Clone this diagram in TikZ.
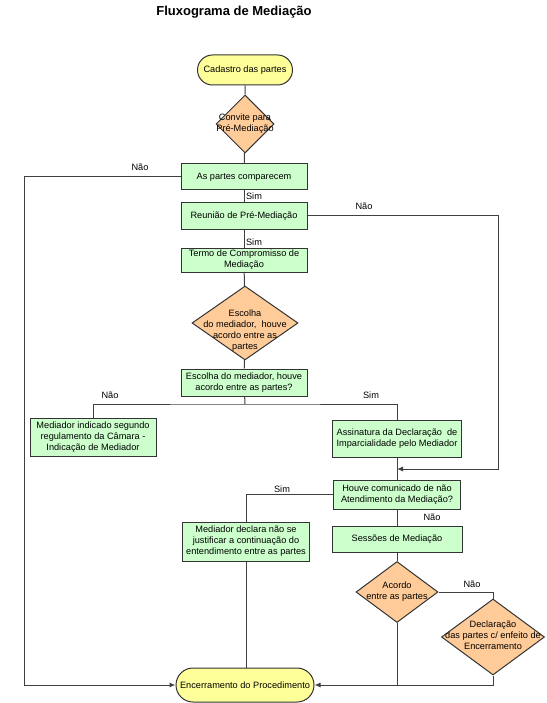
\documentclass[tikz,border=0pt]{standalone}
\usepackage{fontspec}
\setmainfont{Liberation Sans}
\usetikzlibrary{shapes.geometric,shapes.misc,arrows.meta}
\definecolor{fimcor}{HTML}{FFFF99}
\definecolor{caixacor}{HTML}{CCFFCC}
\definecolor{decisaocor}{HTML}{FFCC99}
\definecolor{linhacor}{HTML}{404040}

\begin{document}
\begin{tikzpicture}[x=1pt, y=-1pt,
	every node/.style={font=\fontsize{9.2}{11}\selectfont},
	terminal/.style={rounded rectangle, draw=black!80, fill=fimcor, line width=1pt, inner sep=0pt},
	processo/.style={rectangle, draw=black!80, fill=caixacor, line width=1pt, inner sep=0pt,
		align=center, minimum width=126pt, minimum height=26pt},
	decisao/.style={diamond, draw=black!80, fill=decisaocor, line width=1pt, inner sep=0pt},
	conn/.style={draw=linhacor, line width=1pt},
	seta/.style={conn, -{Latex[length=6pt,width=5pt]}},
	rotulo/.style={inner sep=0pt, align=center}]
\useasboundingbox (0, 0) rectangle (546, 703);

\node[font=\fontsize{13}{15}\selectfont\bfseries] (titulo) at (234, 12) {Fluxograma de Mediação};

\node[terminal, minimum width=95pt, minimum height=30pt] (cadastro) at (245, 70) {Cadastro das partes};
\node[decisao, minimum width=58pt, minimum height=58pt,
	label={[rotulo]center:Convite para\\Pré-Mediação}] (convite) at (245, 124) {};
\node[processo] (comparecem) at (244, 177) {As partes comparecem};
\node[processo] (reuniao) at (244, 216) {Reunião de Pré-Mediação};
\node[processo, minimum height=24pt] (termo) at (244, 260) {Termo de Compromisso de\\Mediação};
\node[decisao, minimum width=106pt, minimum height=74pt,
	label={[rotulo, yshift=-8pt]center:Escolha\\do mediador,~ houve\\acordo entre as\\partes}] (escolha) at (245, 323) {};
\node[processo, minimum height=27pt] (pergunta) at (244, 382.5) {Escolha do mediador, houve\\acordo entre as partes?};
\node[processo, minimum height=38pt] (indicado) at (93, 437) {Mediador indicado segundo\\regulamento da Câmara -\\Indicação de Mediador};
\node[processo, minimum width=129pt, minimum height=37pt] (assinatura) at (397, 438.5) {Assinatura da Declaração~ de\\Imparcialidade pelo Mediador};
\node[processo, minimum width=127pt, minimum height=29pt] (houve) at (397, 494.5) {Houve comunicado de não\\Atendimento da Mediação?};
\node[processo, minimum width=127pt, minimum height=39pt] (declara) at (246, 541.5) {Mediador declara não se\\justificar a continuação do\\entendimento entre as partes};
\node[processo, minimum width=130pt] (sessoes) at (397, 539) {Sessões de Mediação};
\node[decisao, minimum width=82pt, minimum height=61pt,
	label={[rotulo]center:Acordo\\entre as partes}] (acordo) at (397, 592) {};
\node[decisao, minimum width=103pt, minimum height=76pt,
	label={[rotulo, yshift=2pt]center:Declaração\\das partes c/ enfeito de\\Encerramento}] (declaracao) at (493, 637) {};
\node[terminal, minimum width=138pt, minimum height=34pt] (encerramento) at (245, 685) {Encerramento do Procedimento};

\coordinate (esq) at (24, 0);
\coordinate (dir) at (498, 0);
\coordinate (ramo) at (245, 404);
\coordinate (juncao) at (397, 469);

\draw[conn] (cadastro) -- (convite);
\draw[conn] (convite) -- (comparecem);
\draw[conn] (comparecem) -- (reuniao);
\draw[conn] (reuniao) -- (termo);
\draw[conn] (termo) -- (escolha);
\draw[conn] (escolha) -- (pergunta);
\draw[seta] (comparecem.west) -- (comparecem.west -| esq) |- (encerramento.west);
\draw[seta] (reuniao.east) -- (reuniao.east -| dir) |- (juncao);
\draw[conn] (pergunta) -- (ramo);
\draw[conn] (indicado) |- (ramo) -| (assinatura);
\draw[conn] (assinatura) -- (houve);
\draw[conn] (houve) -| (declara);
\draw[conn] (houve) -- (sessoes);
\draw[conn] (sessoes) -- (acordo);
\draw[conn] (acordo) -| (declaracao);
\draw[conn] (acordo) -- (acordo |- encerramento);
\draw[seta] (declaracao) |- (encerramento);
\draw[conn] (declara.south) -- (declara.south |- encerramento.north);

\node[rotulo] (nao1) at (140, 167) {Não};
\node[rotulo] (sim1) at (254, 196) {Sim};
\node[rotulo] (nao2) at (364, 206) {Não};
\node[rotulo] (sim2) at (254, 242) {Sim};
\node[rotulo] (nao3) at (110, 395) {Não};
\node[rotulo] (sim3) at (371, 395) {Sim};
\node[rotulo] (sim4) at (282, 489) {Sim};
\node[rotulo] (nao4) at (432, 517) {Não};
\node[rotulo] (nao5) at (472, 584) {Não};
\end{tikzpicture}
\end{document}
